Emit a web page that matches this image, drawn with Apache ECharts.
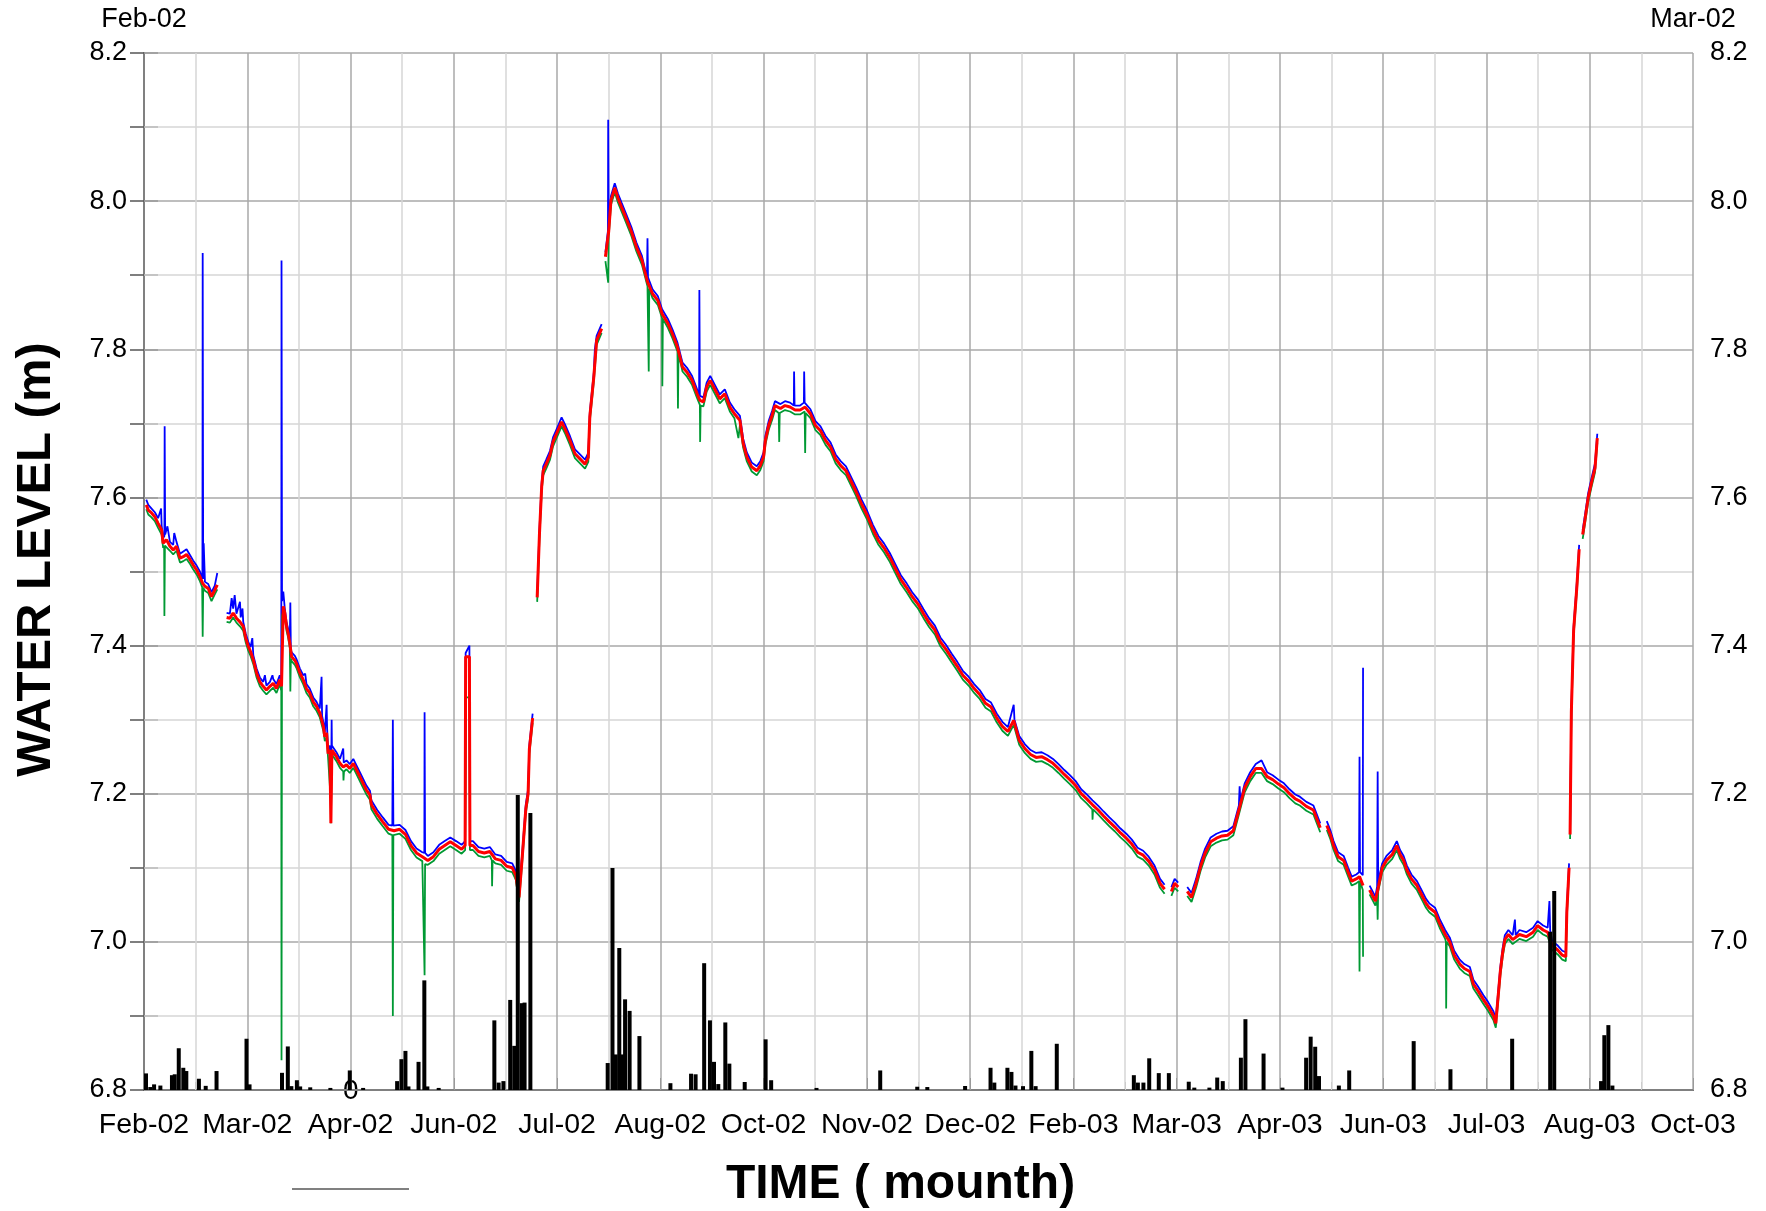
<!DOCTYPE html>
<html>
<head>
<meta charset="utf-8">
<script src="https://cdn.jsdelivr.net/npm/echarts@6/dist/echarts.min.js"></script>
<style>
  html, body { margin: 0; padding: 0; background: #fff; }
  #chart { width: 1766px; height: 1211px; }
</style>
</head>
<body>
<div id="chart"></div>
<script>
// tick labels (x axis every 41 days from 1 Feb 2002)
const tickLabels = ['Feb-02', 'Mar-02', 'Apr-02', 'Jun-02', 'Jul-02', 'Aug-02', 'Oct-02', 'Nov-02',
  'Dec-02', 'Feb-03', 'Mar-03', 'Apr-03', 'Jun-03', 'Jul-03', 'Aug-03', 'Oct-03'];
const topLabels = ['Feb-02', 'Mar-02'];

// water level, red record [day, m] ; null = gap in record
const redLevel = [
  [0.9,7.59],[1.7,7.583],[3.0,7.579],[4.3,7.574],[5.6,7.565],[7.0,7.556],[7.6,7.538],[8.9,7.543],[10.3,7.534],
  [11.6,7.529],[12.9,7.534],[14.3,7.518],[15.6,7.52],[16.9,7.523],[18.3,7.516],[19.5,7.509],[20.9,7.502],
  [22.2,7.493],[23.3,7.484],[24.2,7.48],[25.5,7.477],[26.8,7.466],[28.1,7.475],[29.1,7.482],[29.2,null],
  [32.8,7.438],[34.1,7.437],[35.4,7.444],[36.7,7.437],[38.1,7.432],[39.4,7.426],[40.4,7.41],[41.4,7.399],
  [42.3,7.392],[43.4,7.381],[44.7,7.363],[46.0,7.351],[47.3,7.345],[48.6,7.34],[50.0,7.345],[51.3,7.349],
  [52.6,7.342],[53.9,7.354],[54.6,7.345],[55.3,7.453],[55.9,7.444],[56.6,7.426],[57.2,7.417],[57.9,7.403],
  [58.6,7.385],[59.2,7.383],[59.9,7.38],[60.5,7.376],[61.9,7.363],[63.2,7.354],[64.5,7.342],[65.8,7.336],
  [67.2,7.324],[68.5,7.318],[69.8,7.309],[71.2,7.291],[71.8,7.277],[72.5,7.282],[73.1,7.254],[73.8,7.259],
  [74.2,7.16],[74.6,7.259],[75.1,7.259],[76.4,7.25],[77.8,7.241],[79.1,7.236],[80.4,7.239],[81.7,7.234],
  [83.1,7.241],[84.4,7.232],[85.7,7.223],[87.0,7.214],[88.3,7.205],[89.7,7.198],[90.3,7.185],[92.6,7.172],
  [94.8,7.162],[97.1,7.152],[99.3,7.15],[101.5,7.152],[103.8,7.145],[106,7.13],[108.2,7.12],[110.5,7.115],
  [112.7,7.11],[114.9,7.115],[117.2,7.125],[119.4,7.13],[121.6,7.135],[123.9,7.13],[126.1,7.125],[127.5,7.13],
  [127.7,7.385],[129.2,7.385],[129.4,7.13],[130.6,7.13],[132.8,7.122],[135.1,7.12],[137.3,7.122],[139.5,7.112],
  [141.8,7.11],[144,7.102],[146.2,7.1],[147.6,7.09],[148.9,7.06],[150.3,7.12],[151.6,7.18],[152.5,7.2],
  [153.0,7.26],[154.3,7.302],[154.4,null],
  [156.1,7.465],[157.0,7.55],[157.9,7.615],[158.5,7.636],[159.7,7.645],[161.2,7.657],[162.4,7.675],[163.8,7.686],
  [165.8,7.702],[167.1,7.693],[169.1,7.677],[171.1,7.659],[173.1,7.652],[175.1,7.645],[176.4,7.654],[177.0,7.709],
  [178.6,7.763],[179.7,7.812],[181.7,7.828],[181.8,null],
  [183.2,7.925],[184.5,7.959],[185.4,8.001],[186.9,8.018],[188.2,8.004],[189.6,7.992],[191.4,7.977],[193.5,7.959],
  [195.5,7.938],[197.7,7.92],[199.9,7.891],[201.9,7.875],[204.0,7.866],[205.7,7.848],[208.0,7.835],[209.8,7.821],
  [211.8,7.803],[213.8,7.776],[215.6,7.769],[217.6,7.758],[219.6,7.74],[220.7,7.731],[222.1,7.729],[223.4,7.749],
  [224.8,7.758],[226.8,7.745],[228.6,7.733],[230.6,7.74],[232.6,7.722],[234.4,7.713],[236.6,7.704],[237.9,7.673],
  [239.3,7.655],[241.3,7.641],[243.3,7.636],[244.7,7.643],[246.0,7.655],[246.7,7.677],[248.0,7.697],[249.4,7.711],
  [250.5,7.724],[252.7,7.72],[254.5,7.724],[256.5,7.722],[258.5,7.718],[260.5,7.718],[262.5,7.722],[264.6,7.713],
  [266.6,7.697],[268.6,7.69],[270.6,7.677],[272.6,7.668],[274.6,7.652],[276.6,7.643],[278.7,7.636],[282.7,7.608],
  [284.9,7.591],[287.1,7.576],[289.4,7.557],[291.6,7.542],[293.8,7.532],[296.1,7.519],[298.3,7.504],[300.5,7.489],
  [302.8,7.478],[305.0,7.466],[307.3,7.456],[309.5,7.443],[311.7,7.431],[314.0,7.421],[316.2,7.405],[318.4,7.395],
  [320.7,7.383],[322.9,7.372],[325.1,7.36],[327.4,7.352],[329.6,7.342],[331.8,7.334],[334.1,7.322],[336.3,7.317],
  [338.6,7.302],[340.8,7.291],[343.0,7.284],[345.3,7.299],[347.5,7.272],[349.7,7.261],[352.0,7.253],[354.2,7.249],
  [356.4,7.25],[358.7,7.246],[360.9,7.241],[363.1,7.234],[365.4,7.226],[367.6,7.219],[369.9,7.211],[372.1,7.2],
  [374.3,7.193],[376.6,7.185],[378.8,7.178],[381.0,7.17],[383.3,7.162],[385.5,7.155],[387.7,7.147],[390.0,7.14],
  [392.2,7.132],[394.5,7.121],[396.7,7.117],[398.9,7.109],[401.2,7.097],[403.4,7.079],[405.2,7.071],[405.3,null],
  [407.9,7.068],[409.2,7.079],[410.6,7.074],[410.7,null],
  [414.2,7.068],[415.9,7.06],[417.7,7.079],[419.5,7.102],[421.3,7.12],[423.5,7.135],[425.8,7.14],[428.0,7.143],
  [430.2,7.144],[432.5,7.15],[434.7,7.178],[437.0,7.208],[439.2,7.223],[441.4,7.234],[443.7,7.234],[445.9,7.223],
  [448.1,7.219],[450.4,7.213],[452.6,7.208],[454.8,7.2],[457.1,7.193],[458.9,7.19],[461.5,7.183],[464.3,7.178],
  [467.0,7.154],[467.1,null],
  [469.6,7.157],[471.0,7.145],[472.3,7.13],[474.1,7.115],[476.3,7.11],[478.1,7.094],[479.5,7.082],[481.3,7.085],
  [482.6,7.088],[484.0,7.076],[484.1,null],
  [486.6,7.07],[488.9,7.055],[490.2,7.076],[491.6,7.10],[493.3,7.11],[495.6,7.118],[497.4,7.13],[498.7,7.118],
  [500.1,7.11],[501.4,7.097],[503.2,7.085],[505.4,7.076],[507.2,7.064],[509.0,7.052],[510.3,7.046],[512.6,7.04],
  [514.4,7.025],[516.6,7.01],[518.4,7.0],[520.2,6.982],[522.4,6.97],[524.2,6.964],[526.4,6.96],[527.8,6.943],
  [529.6,6.934],[531.8,6.922],[533.6,6.913],[535.8,6.90],[536.7,6.89],[537.6,6.925],[538.5,6.96],[539.4,6.985],
  [540.3,7.003],[541.7,7.01],[543.4,7.003],[546.1,7.01],[548.8,7.007],[551.5,7.013],[553.3,7.022],[555.5,7.016],
  [557.3,7.013],[559.1,6.995],[561.3,6.989],[563.1,6.982],[564.5,6.98],[564.9,7.04],[565.8,7.10],[565.9,null],
  [566.2,7.145],[566.7,7.31],[567.6,7.42],[568.9,7.48],[569.8,7.53],[569.9,null],
  [571.2,7.55],[572.1,7.57],[573.4,7.60],[574.7,7.62],[576.1,7.64],[577.0,7.68]
];

// water level, blue record (upper trace, upward spikes)
const blueLevel = [
  [0.9,7.597],[1.7,7.59],[3.0,7.585],[4.3,7.58],[5.6,7.572],[6.8,7.585],[7.0,7.562],[7.6,7.545],[8.1,7.548],
  [8.2,7.696],[8.4,7.55],[8.9,7.55],[9.3,7.561],[10.3,7.54],[11.6,7.536],[12.0,7.552],[12.9,7.54],[14.3,7.524],
  [15.6,7.527],[16.9,7.53],[18.3,7.522],[19.5,7.515],[20.9,7.508],[22.2,7.5],[23.2,7.49],[23.3,7.93],[23.5,7.49],
  [23.7,7.538],[24.2,7.486],[25.5,7.483],[26.8,7.472],[28.1,7.481],[29.1,7.498],[29.2,null],
  [32.8,7.444],[34.1,7.443],[34.8,7.464],[35.4,7.45],[36.0,7.468],[36.7,7.443],[38.1,7.459],[38.4,7.438],
  [39.1,7.45],[39.4,7.432],[40.4,7.416],[41.4,7.405],[42.3,7.398],[43.0,7.41],[43.4,7.387],[44.7,7.369],
  [46.0,7.357],[47.3,7.351],[48.0,7.36],[48.6,7.346],[50.0,7.351],[51.0,7.36],[51.3,7.355],[52.6,7.348],
  [53.9,7.36],[54.5,7.352],[54.6,7.92],[54.8,7.46],[55.3,7.473],[55.9,7.45],[56.6,7.432],[57.2,7.423],[57.9,7.41],
  [58.1,7.458],[58.3,7.395],[58.6,7.391],[59.2,7.389],[59.9,7.386],[60.5,7.382],[61.9,7.369],[63.2,7.36],
  [64.0,7.362],[64.5,7.348],[65.8,7.342],[67.2,7.33],[68.5,7.324],[69.8,7.315],[70.5,7.358],[70.7,7.305],
  [71.2,7.297],[71.8,7.283],[72.5,7.32],[72.7,7.288],[73.1,7.26],[73.8,7.265],[74.2,7.18],[74.5,7.30],[74.6,7.265],
  [75.1,7.265],[76.4,7.256],[77.8,7.247],[79.1,7.261],[79.3,7.242],[80.4,7.245],[81.7,7.24],[83.1,7.247],
  [83.7,7.248],[84.4,7.238],[85.7,7.229],[87.0,7.22],[88.3,7.211],[89.7,7.204],[90.3,7.191],[92.6,7.178],
  [94.8,7.168],[97.1,7.158],[98.6,7.157],[98.8,7.30],[99.0,7.157],[99.3,7.156],[101.5,7.158],[103.8,7.151],
  [106,7.136],[108.2,7.126],[110.5,7.121],[111.3,7.12],[111.4,7.31],[111.6,7.12],[112.7,7.116],[114.9,7.121],
  [117.2,7.131],[119.4,7.136],[121.6,7.141],[123.9,7.136],[126.1,7.131],[127.5,7.136],[127.7,7.39],[129.2,7.40],
  [129.4,7.136],[130.6,7.136],[132.8,7.128],[135.1,7.126],[137.3,7.128],[139.5,7.118],[141.8,7.116],[144,7.108],
  [146.2,7.106],[147.6,7.096],[148.9,7.066],[150.3,7.126],[151.6,7.186],[152.5,7.206],[153.0,7.266],[154.3,7.308],
  [154.4,null],
  [156.1,7.47],[157.0,7.556],[157.9,7.621],[158.5,7.642],[159.7,7.651],[161.2,7.663],[162.4,7.681],[163.8,7.692],
  [165.8,7.708],[167.1,7.699],[169.1,7.683],[171.1,7.665],[173.1,7.658],[175.1,7.651],[176.4,7.66],[177.0,7.715],
  [178.6,7.769],[179.0,7.80],[179.7,7.818],[181.7,7.834],[181.8,null],
  [183.2,7.931],[184.2,7.96],[184.3,8.11],[184.5,7.965],[185.4,8.007],[186.9,8.024],[188.2,8.01],[189.6,7.998],
  [191.4,7.983],[193.5,7.965],[195.5,7.944],[197.7,7.926],[199.7,7.897],[199.9,7.95],[200.1,7.897],[201.9,7.881],
  [204.0,7.872],[205.7,7.854],[208.0,7.841],[209.8,7.827],[211.8,7.809],[213.8,7.782],[215.6,7.775],[217.6,7.764],
  [219.6,7.746],[220.4,7.737],[220.5,7.88],[220.7,7.737],[222.1,7.735],[223.4,7.755],[224.8,7.764],[226.8,7.751],
  [228.6,7.739],[230.6,7.746],[232.6,7.728],[234.4,7.719],[236.6,7.71],[237.9,7.679],[239.3,7.661],[241.3,7.647],
  [243.3,7.642],[244.7,7.649],[246.0,7.661],[246.7,7.683],[248.0,7.703],[249.4,7.717],[250.5,7.73],[252.7,7.726],
  [254.5,7.73],[256.5,7.728],[258.0,7.724],[258.1,7.77],[258.3,7.724],[260.5,7.724],[262.0,7.728],[262.1,7.77],
  [262.3,7.728],[264.6,7.719],[266.6,7.703],[268.6,7.696],[270.6,7.683],[272.6,7.674],[274.6,7.658],[276.6,7.649],
  [278.7,7.642],[282.7,7.614],[284.9,7.597],[287.1,7.582],[289.4,7.563],[291.6,7.548],[293.8,7.538],[296.1,7.525],
  [298.3,7.51],[300.5,7.495],[302.8,7.484],[305.0,7.472],[307.3,7.462],[309.5,7.449],[311.7,7.437],[314.0,7.427],
  [316.2,7.411],[318.4,7.401],[320.7,7.389],[322.9,7.378],[325.1,7.366],[327.4,7.358],[329.6,7.348],[331.8,7.34],
  [334.1,7.328],[336.3,7.323],[338.6,7.308],[340.8,7.297],[343.0,7.29],[345.3,7.32],[345.6,7.3],[347.5,7.278],
  [349.7,7.267],[352.0,7.259],[354.2,7.255],[356.4,7.256],[358.7,7.252],[360.9,7.247],[363.1,7.24],[365.4,7.232],
  [367.6,7.225],[369.9,7.217],[372.1,7.206],[374.3,7.199],[376.6,7.191],[378.8,7.184],[381.0,7.176],[383.3,7.168],
  [385.5,7.161],[387.7,7.153],[390.0,7.146],[392.2,7.138],[394.5,7.127],[396.7,7.123],[398.9,7.115],[401.2,7.103],
  [403.4,7.085],[405.2,7.077],[405.3,null],
  [407.9,7.074],[409.2,7.085],[410.6,7.08],[410.7,null],
  [414.2,7.074],[415.9,7.066],[417.7,7.085],[419.5,7.108],[421.3,7.126],[423.5,7.141],[425.8,7.146],[428.0,7.149],
  [430.2,7.15],[432.5,7.156],[434.7,7.184],[435.0,7.21],[435.3,7.19],[437.0,7.214],[439.2,7.229],[441.4,7.24],
  [443.7,7.245],[445.9,7.229],[448.1,7.225],[450.4,7.219],[452.6,7.214],[454.8,7.206],[457.1,7.199],[458.9,7.196],
  [461.5,7.189],[464.3,7.184],[467.0,7.16],[467.1,null],
  [469.6,7.163],[471.0,7.151],[472.3,7.136],[474.1,7.121],[476.3,7.116],[478.1,7.1],[479.5,7.088],[481.3,7.091],
  [482.4,7.094],[482.6,7.25],[482.8,7.094],[483.9,7.09],[484.0,7.37],[484.1,null],
  [486.6,7.076],[488.9,7.061],[489.6,7.075],[489.8,7.23],[490.0,7.082],[490.2,7.082],[491.6,7.106],[493.3,7.116],
  [495.6,7.124],[497.4,7.136],[498.7,7.124],[500.1,7.116],[501.4,7.103],[503.2,7.091],[505.4,7.082],[507.2,7.07],
  [509.0,7.058],[510.3,7.052],[512.6,7.046],[514.4,7.031],[516.6,7.016],[518.4,7.006],[520.2,6.988],[522.4,6.976],
  [524.2,6.97],[526.4,6.966],[527.8,6.949],[529.6,6.94],[531.8,6.928],[533.6,6.919],[535.8,6.906],[536.7,6.896],
  [537.6,6.931],[538.5,6.966],[539.4,6.991],[540.3,7.009],[541.7,7.016],[543.4,7.009],[544.3,7.03],[544.6,7.009],
  [546.1,7.016],[548.8,7.013],[551.5,7.019],[553.3,7.028],[555.5,7.022],[557.3,7.019],[558.0,7.055],[558.3,7.015],
  [559.1,7.001],[561.3,6.995],[563.1,6.988],[564.5,6.986],[564.9,7.046],[565.8,7.106],[565.9,null],
  [566.2,7.151],[566.7,7.316],[567.6,7.426],[568.9,7.486],[569.8,7.536],[569.9,null],
  [571.2,7.556],[572.1,7.576],[573.4,7.606],[574.7,7.626],[576.1,7.646],[577.0,7.686]
];

// water level, green record (lower trace, downward spikes)
const greenLevel = [
  [0.9,7.584],[1.7,7.577],[3.0,7.573],[4.3,7.568],[5.6,7.559],[7.0,7.55],[7.6,7.532],[8.0,7.535],[8.1,7.44],
  [8.3,7.535],[8.9,7.537],[10.3,7.528],[11.6,7.523],[12.9,7.528],[14.3,7.512],[15.6,7.514],[16.9,7.517],
  [18.3,7.51],[19.5,7.503],[20.9,7.496],[22.2,7.487],[23.1,7.479],[23.3,7.412],[23.5,7.478],[24.2,7.474],
  [25.5,7.471],[26.8,7.46],[28.1,7.469],[29.1,7.476],[29.2,null],
  [32.8,7.432],[34.1,7.431],[35.4,7.438],[36.7,7.431],[38.1,7.426],[39.4,7.42],[40.4,7.404],[41.4,7.393],
  [42.3,7.386],[43.4,7.375],[44.7,7.357],[46.0,7.345],[47.3,7.339],[48.6,7.334],[50.0,7.339],[51.3,7.343],
  [52.6,7.336],[53.9,7.348],[54.5,7.339],[54.6,6.84],[54.8,7.44],[55.3,7.447],[55.9,7.438],[56.6,7.42],
  [57.2,7.411],[57.9,7.397],[58.1,7.338],[58.3,7.382],[58.6,7.379],[59.2,7.377],[59.9,7.374],[60.5,7.37],
  [61.9,7.357],[63.2,7.348],[64.5,7.336],[65.8,7.33],[67.2,7.318],[68.5,7.312],[69.8,7.303],[71.2,7.285],
  [71.8,7.271],[72.5,7.276],[73.1,7.248],[73.6,7.25],[73.8,7.21],[74.0,7.25],[74.2,7.16],[74.6,7.253],
  [75.1,7.253],[76.4,7.244],[77.8,7.235],[79.1,7.23],[79.2,7.218],[79.4,7.23],[80.4,7.233],[81.7,7.228],
  [83.1,7.235],[84.4,7.226],[85.7,7.217],[87.0,7.208],[88.3,7.199],[89.7,7.192],[90.3,7.179],[92.6,7.166],
  [94.8,7.156],[97.1,7.146],[98.6,7.144],[98.8,6.90],[99.0,7.144],[99.3,7.144],[101.5,7.146],[103.8,7.139],
  [106,7.124],[108.2,7.114],[110.5,7.109],[111.2,7.107],[111.4,6.955],[111.6,7.105],[112.7,7.104],[114.9,7.109],
  [117.2,7.119],[119.4,7.124],[121.6,7.129],[123.9,7.124],[126.1,7.119],[127.5,7.124],[127.9,7.33],[129.2,7.33],
  [129.4,7.124],[130.6,7.124],[132.8,7.116],[135.1,7.114],[137.3,7.116],[138.1,7.11],[138.2,7.075],[138.4,7.11],
  [139.5,7.106],[141.8,7.104],[144,7.096],[146.2,7.094],[147.6,7.084],[148.9,7.054],[150.3,7.114],[151.6,7.174],
  [152.5,7.194],[153.0,7.254],[154.3,7.296],[154.4,null],
  [156.1,7.459],[157.0,7.544],[157.9,7.609],[158.5,7.63],[159.7,7.639],[161.2,7.651],[162.4,7.669],[163.8,7.68],
  [165.8,7.696],[167.1,7.687],[169.1,7.671],[171.1,7.653],[173.1,7.646],[175.1,7.639],[176.4,7.648],[177.0,7.703],
  [178.6,7.757],[179.7,7.806],[181.7,7.822],[181.8,null],
  [183.2,7.919],[184.3,7.89],[184.5,7.953],[185.4,7.995],[186.9,8.012],[188.2,7.998],[189.6,7.986],[191.4,7.971],
  [193.5,7.953],[195.5,7.932],[197.7,7.914],[199.9,7.885],[200.4,7.77],[200.6,7.882],[201.9,7.869],[204.0,7.86],
  [205.7,7.842],[205.8,7.75],[206.0,7.841],[208.0,7.829],[209.8,7.815],[211.8,7.797],[212.0,7.72],[212.2,7.795],
  [213.8,7.77],[215.6,7.763],[217.6,7.752],[219.6,7.734],[220.7,7.725],[220.8,7.675],[221.0,7.724],[222.1,7.723],
  [223.4,7.743],[224.8,7.752],[226.8,7.739],[228.6,7.727],[230.6,7.734],[232.6,7.716],[234.4,7.707],[236.0,7.68],
  [236.6,7.698],[237.9,7.667],[239.3,7.649],[241.3,7.635],[243.3,7.63],[244.7,7.637],[246.0,7.649],[246.7,7.671],
  [248.0,7.691],[249.4,7.705],[250.5,7.718],[252.0,7.714],[252.2,7.675],[252.4,7.714],[252.7,7.714],[254.5,7.718],
  [256.5,7.716],[258.5,7.712],[260.5,7.712],[262.3,7.716],[262.5,7.66],[262.7,7.714],[264.6,7.707],[266.6,7.691],
  [268.6,7.684],[270.6,7.671],[272.6,7.662],[274.6,7.646],[276.6,7.637],[278.7,7.63],[282.7,7.602],[284.9,7.585],
  [287.1,7.57],[289.4,7.551],[291.6,7.536],[293.8,7.526],[296.1,7.513],[298.3,7.498],[300.5,7.483],[302.8,7.472],
  [305.0,7.46],[307.3,7.45],[309.5,7.437],[311.7,7.425],[314.0,7.415],[316.2,7.399],[318.4,7.389],[320.7,7.377],
  [322.9,7.366],[325.1,7.354],[327.4,7.346],[329.6,7.336],[331.8,7.328],[334.1,7.316],[336.3,7.311],[338.6,7.296],
  [340.8,7.285],[343.0,7.278],[345.3,7.293],[347.5,7.266],[349.7,7.255],[352.0,7.247],[354.2,7.243],[356.4,7.244],
  [358.7,7.24],[360.9,7.235],[363.1,7.228],[365.4,7.22],[367.6,7.213],[369.9,7.205],[372.1,7.194],[374.3,7.187],
  [376.5,7.179],[376.6,7.165],[376.8,7.179],[378.8,7.172],[381.0,7.164],[383.3,7.156],[385.5,7.149],[387.7,7.141],
  [390.0,7.134],[392.2,7.126],[394.5,7.115],[396.7,7.111],[398.9,7.103],[401.2,7.091],[403.4,7.073],[405.2,7.065],
  [405.3,null],
  [407.9,7.062],[409.2,7.073],[410.6,7.068],[410.7,null],
  [414.2,7.062],[415.9,7.054],[417.7,7.073],[419.5,7.096],[421.3,7.114],[423.5,7.129],[425.8,7.134],[428.0,7.137],
  [430.2,7.138],[432.5,7.144],[434.7,7.172],[437.0,7.202],[439.2,7.217],[441.4,7.228],[443.7,7.228],[445.9,7.217],
  [448.1,7.213],[450.4,7.207],[452.6,7.202],[454.8,7.194],[457.1,7.187],[458.9,7.184],[461.5,7.177],[464.3,7.172],
  [467.0,7.148],[467.1,null],
  [469.6,7.151],[471.0,7.139],[472.3,7.124],[474.1,7.109],[476.3,7.104],[478.1,7.088],[479.5,7.076],[481.3,7.079],
  [482.4,7.082],[482.6,6.96],[482.8,7.082],[483.9,7.07],[484.0,6.98],[484.1,null],
  [486.6,7.064],[488.9,7.049],[489.6,7.06],[489.8,7.03],[490.0,7.068],[490.2,7.07],[491.6,7.094],[493.3,7.104],
  [495.6,7.112],[497.4,7.124],[498.7,7.112],[500.1,7.104],[501.4,7.091],[503.2,7.079],[505.4,7.07],[507.2,7.058],
  [509.0,7.046],[510.3,7.04],[512.6,7.034],[514.4,7.019],[516.6,7.004],[516.9,7.0],[517.0,6.91],[517.2,7.0],
  [518.4,6.994],[520.2,6.976],[522.4,6.964],[524.2,6.958],[526.4,6.954],[527.8,6.937],[529.6,6.928],[531.8,6.916],
  [533.6,6.907],[535.8,6.894],[536.7,6.884],[537.6,6.919],[538.5,6.954],[539.4,6.979],[540.3,6.997],[541.7,7.004],
  [543.4,6.997],[546.1,7.004],[548.8,7.001],[551.5,7.007],[553.3,7.016],[555.5,7.01],[557.3,7.007],[559.1,6.989],
  [561.3,6.983],[563.1,6.976],[564.5,6.974],[564.9,7.034],[565.8,7.094],[565.9,null],
  [566.2,7.139],[566.7,7.304],[567.6,7.414],[568.9,7.474],[569.8,7.524],[569.9,null],
  [571.2,7.544],[572.1,7.564],[573.4,7.594],[574.7,7.614],[576.1,7.634],[577.0,7.674]
];

// daily rainfall [day, mm]
const rainfall = [
  [0.8,5.6],[2.5,1],[4,1.9],[6.5,1.5],[11.1,5],[12.2,5.3],[13.8,14.1],[15.6,7.5],[16.8,6.4],[21.8,3.8],[24.5,1.4],
  [28.8,6.4],[40.7,17.3],[41.9,1.9],[54.8,5.8],[57.1,14.7],[58.5,1.3],[60.7,3.3],[62,1.2],[66,0.9],[74,0.7],
  [81.7,6.6],[87,0.7],[100.5,3],[102.2,10.4],[103.8,13.2],[105,1.2],[109,9.5],[111.3,37],[112.5,1.2],[117,0.7],
  [139.1,23.5],[140.8,2.5],[142.7,3],[145.4,30.4],[147,14.9],[148.4,99.6],[150,29.3],[151.1,29.5],[153.4,93.5],
  [184.1,9.1],[186,74.9],[187.3,12],[188.7,47.9],[190,12],[191,30.6],[192.8,26.7],[196.7,18.2],[209,2.3],
  [217.2,5.5],[219,5.3],[222.4,42.8],[224.7,23.5],[226.3,9.5],[228,2],[230.8,22.8],[232.4,8.9],[238.5,2.7],
  [246.8,17.1],[249,3.3],[267,0.7],[292.3,6.6],[307,1.1],[311,1],[326,1.35],[336.1,7.5],[337.6,2.5],[342.8,7.5],
  [344.4,6.1],[346,1.5],[349,1.3],[352.3,13.2],[354,1.3],[362.4,15.6],[393,5],[394.6,2.5],[396.8,2.5],[399.1,10.7],
  [402.9,5.7],[406.9,5.7],[414.8,2.8],[417,0.8],[423,0.8],[426.1,4.2],[428.3,3],[435.5,10.9],[437.3,23.9],
  [444.5,12.3],[452,0.8],[461.4,10.9],[463.2,18],[465,14.6],[466.5,4.7],[474.4,1.5],[478.5,6.6],[504.1,16.5],
  [518.7,7],[543.2,17.3],[558.3,53.4],[559.9,67.2],[578.5,3],[579.8,18.5],[581.4,21.9],[583,1.5]
];

const FONT = '"Liberation Sans", Arial, Helvetica, sans-serif';
const labelStyle = { fontSize: 27, color: '#000', fontFamily: FONT };

const chart = echarts.init(document.getElementById('chart'));
chart.setOption({
  animation: false,
  backgroundColor: '#fff',
  grid: { left: 144, right: 73, top: 53, bottom: 121, containLabel: false, outerBoundsMode: 'none' },
  xAxis: [
    {
      type: 'value', min: 0, max: 615, interval: 41, position: 'bottom',
      axisLine: { show: true, onZero: false, lineStyle: { color: '#222', width: 2 } },
      axisTick: { show: true, inside: true, length: 12, lineStyle: { color: '#999' } },
      minorTick: { show: true, splitNumber: 2, length: 8, lineStyle: { color: '#ccc' } },
      axisLabel: Object.assign({}, labelStyle, { fontSize: 28.5, margin: 21, formatter: v => tickLabels[Math.round(v / 41)] || '' }),
      splitLine: { show: true, lineStyle: { color: '#a8a8a8', width: 1.5 } },
      minorSplitLine: { show: true, lineStyle: { color: '#d6d6d6', width: 1.5 } },
      name: 'TIME ( mounth)', nameLocation: 'middle', nameGap: 71,
      nameTextStyle: { fontSize: 48, fontWeight: 'bold', color: '#000', fontFamily: FONT, padding: [0, 36, 0, 0] }
    },
    {
      type: 'value', min: 0, max: 1, interval: 1, position: 'top',
      axisLine: { show: true, lineStyle: { color: '#808080', width: 2 } },
      axisTick: { show: false },
      splitLine: { show: false },
      axisLabel: Object.assign({}, labelStyle, { margin: 20, formatter: v => topLabels[v] })
    }
  ],
  yAxis: [
    {
      type: 'value', min: 6.8, max: 8.2, interval: 0.2, position: 'left',
      axisLine: { show: true, lineStyle: { color: '#808080', width: 2 } },
      axisTick: { show: true, inside: true, length: 14, lineStyle: { color: '#999', width: 1.5 } },
      minorTick: { show: true, splitNumber: 2, length: 14, lineStyle: { color: '#bbb', width: 1.5 } },
      axisLabel: Object.assign({}, labelStyle, { margin: 17, formatter: v => v.toFixed(1) }),
      splitLine: { show: true, lineStyle: { color: '#a8a8a8', width: 1.5 } },
      minorSplitLine: { show: true, lineStyle: { color: '#d6d6d6', width: 1.5 } },
      name: 'WATER LEVEL (m)', nameLocation: 'middle', nameGap: 83,
      nameTextStyle: { fontSize: 49, fontWeight: 'bold', color: '#000', fontFamily: FONT, padding: [0, 0, 0, 24] }
    },
    {
      type: 'value', min: 6.8, max: 8.2, interval: 0.2, position: 'right',
      axisLine: { show: true, lineStyle: { color: '#808080', width: 2 } },
      axisTick: { show: true, inside: true, length: 14, lineStyle: { color: '#555', width: 1.5 } },
      minorTick: { show: true, splitNumber: 2, length: 14, lineStyle: { color: '#555', width: 1.5 } },
      axisLabel: Object.assign({}, labelStyle, { margin: 17, formatter: v => v.toFixed(1) }),
      splitLine: { show: false }
    },
    { type: 'value', min: 0, max: 350, show: false }
  ],
  series: [
    {
      name: 'blue', type: 'line', xAxisIndex: 0, yAxisIndex: 0, data: blueLevel,
      symbol: 'none', connectNulls: false, lineStyle: { color: '#0000ff', width: 1.8 }, z: 3
    },
    {
      name: 'green', type: 'line', xAxisIndex: 0, yAxisIndex: 0, data: greenLevel,
      symbol: 'none', connectNulls: false, lineStyle: { color: '#009933', width: 1.8 }, z: 4
    },
    {
      name: 'red', type: 'line', xAxisIndex: 0, yAxisIndex: 0, data: redLevel,
      symbol: 'none', connectNulls: false, lineStyle: { color: '#ff0000', width: 3 }, z: 5
    },
    {
      name: 'rain', type: 'bar', xAxisIndex: 0, yAxisIndex: 2, data: rainfall,
      barWidth: 4, itemStyle: { color: '#000' }, z: 6
    }
  ],
  graphic: [
    { type: 'text', left: 343, top: 1077, style: { text: '0', fontSize: 28, fill: '#000', fontFamily: FONT } },
    { type: 'line', shape: { x1: 292, y1: 1189, x2: 409, y2: 1189 }, style: { stroke: '#808080', lineWidth: 2 } }
  ]
});
window.onresize = chart.resize;
</script>
</body>
</html>
